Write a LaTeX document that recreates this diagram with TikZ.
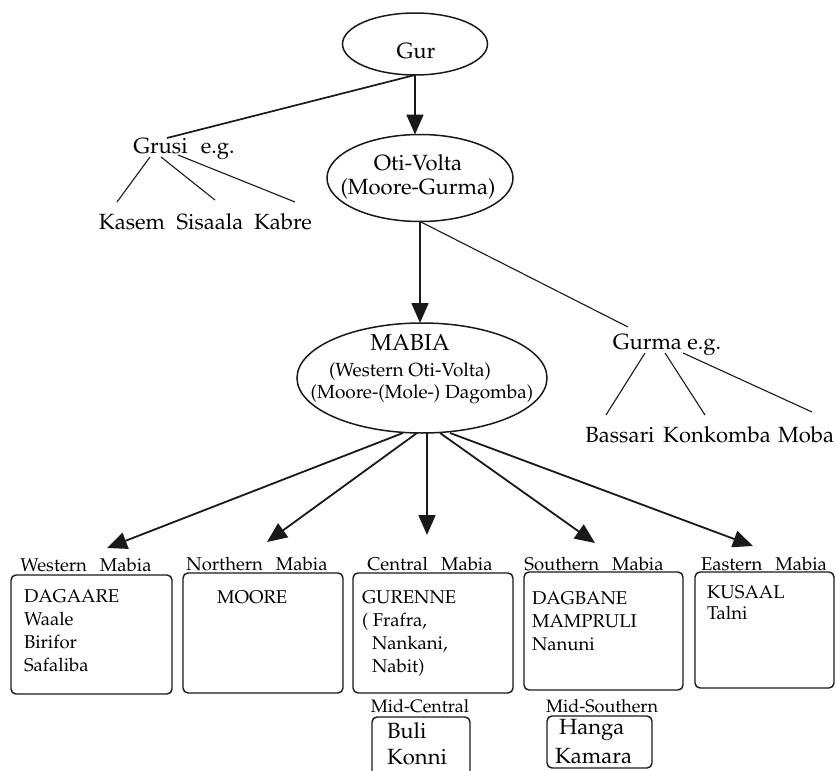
\documentclass[tikz,border=0pt]{standalone}
\usepackage[T1]{fontenc}
\usepackage{mathpazo}
\usetikzlibrary{arrows.meta,calc,shapes.geometric}
\begin{document}
\begin{tikzpicture}[x=1pt,y=-1pt,
 every node/.style={inner sep=0pt, outer sep=0pt},
 thinln/.style={draw=black!90, line width=1.1pt},
 thickln/.style={draw=black!90, line width=1.7pt},
 arr/.style={draw=black!90, line width=1.8pt, -{Triangle[length=20pt,width=17pt]}},
 oval/.style={ellipse, draw=black!90, line width=1.5pt},
 boxshape/.style={rectangle, draw=black!90, line width=1.4pt, rounded corners=5pt},
 bigf/.style={font=\fontsize{22}{26}\selectfont},
 midf/.style={font=\fontsize{19}{22}\selectfont},
 boxf/.style={font=\fontsize{18.5}{23}\selectfont, align=left, anchor=north west},
 labf/.style={font=\fontsize{18.5}{20}\selectfont},
 mlabf/.style={font=\fontsize{18}{20}\selectfont},
 mboxf/.style={font=\fontsize{22}{26}\selectfont, align=left, anchor=north west},
]
\useasboundingbox (0,0) rectangle (836,771);
\clip (0,0) rectangle (836,771);

% ellipses
\node[oval, minimum width=145pt, minimum height=62pt] (gur) at (415,44) {};
\node[bigf] (gurt) at (416,51) {Gur};
\node[oval, minimum width=186pt, minimum height=87pt] (oti) at (420,178) {};
\node[font=\fontsize{22}{24}\selectfont, align=center] (otit) at (418,177) {Oti-Volta\\(Moore-Gurma)};
\node[oval, minimum width=250pt, minimum height=110pt] (mabia) at (422,378) {};
\node[font=\fontsize{23}{26}\selectfont] (mabiaa) at (410,343) {MABIA};
\node[midf] (mabiab) at (410,372) {(Western Oti-Volta)};
\node[midf] (mabiac) at (422,394) {(Moore-(Mole-) Dagomba)};

% Grusi group
\node[bigf] (grusi) at (184,149) {Grusi\hspace{0.35em} e.g.};
\node[bigf] (kasem) at (132,222) {Kasem};
\node[bigf] (sisaala) at (210,222) {Sisaala};
\node[bigf] (kabre) at (283,222) {Kabre};

% Gurma group
\node[bigf] (gurma) at (667,345) {Gurma e.g.};
\node[bigf] (bassari) at (620,435) {Bassari};
\node[bigf] (konkomba) at (717,435) {Konkomba};
\node[bigf] (moba) at (806,435) {Moba};

% top connectors
\draw[arr] (gur.south) -- (gur.south |- oti.north);
\draw[thickln] (gur.south) -- ($(grusi.center)+(-17,-11)$);
\draw[thinln] ($(grusi.center)+(-34,8)$) -- ($(kasem.center)+(-15,-20)$);
\draw[thinln] ($(grusi.center)+(-23,8)$) -- ($(sisaala.center)+(5,-22)$);
\draw[thinln] ($(grusi.center)+(-6,6)$) -- ($(kabre.center)+(12,-20)$);
\draw[arr] (oti.south) -- (oti.south |- mabia.north);
\draw[thinln] (oti.south) -- ($(gurma.center)+(-39,-18)$);
\draw[thinln] ($(gurma.center)+(-22,8)$) -- ($(bassari.center)+(-14,-20)$);
\draw[thinln] ($(gurma.center)+(-2,8)$) -- ($(konkomba.center)+(-12,-20)$);
\draw[thinln] ($(gurma.center)+(16,8)$) -- ($(moba.center)+(6,-23)$);

% group labels
\node[labf] (wlab) at (86,565) {Western\hspace{0.45em} Mabia};
\node[labf] (nlab) at (257,564) {Northern\hspace{0.45em} Mabia};
\node[labf] (clab) at (430,564) {Central\hspace{0.45em} Mabia};
\node[labf] (slab) at (594,564) {Southern\hspace{0.45em} Mabia};
\node[labf] (elab) at (764,564) {Eastern\hspace{0.45em} Mabia};

% arrows from MABIA
\draw[arr] ($(mabia.south)+(-19,0)$) -- ($(wlab.center)+(21,-17)$);
\draw[arr] ($(mabia.south)+(-5,0)$) -- ($(nlab.center)+(10,-22)$);
\draw[arr] ($(mabia.south)+(5,0)$) -- ($(clab.center)+(-3,-29)$);
\draw[arr] ($(mabia.south)+(18,0)$) -- ($(slab.center)+(1,-21)$);
\draw[arr] ($(mabia.south)+(28,0)$) -- ($(elab.center)+(-11,-18)$);

% boxes
\node[boxshape, minimum width=161pt, minimum height=119pt] (wbox) at (91.5,634.5) {};
\node[boxshape, minimum width=160pt, minimum height=120pt] (nbox) at (263,633) {};
\node[boxshape, minimum width=160pt, minimum height=120pt] (cbox) at (433,633) {};
\node[boxshape, minimum width=159pt, minimum height=118pt] (sbox) at (603.5,631) {};
\node[boxshape, minimum width=139pt, minimum height=116pt] (ebox) at (764.5,630) {};

\node[boxf] (wtext) at (24,590) {DAGAARE\\Waale\\Birifor\\Safaliba};
\node[boxf] (ntext) at (217,591) {MOORE};
\node[boxf] (ctext) at (362,591) {GURENNE\\( Frafra,\\\hspace*{10pt}Nankani,\\\hspace*{10pt}Nabit)};
\node[boxf] (stext) at (532,592) {DAGBANE\\MAMPRULI\\Nanuni};
\node[boxf, font=\fontsize{18.5}{21}\selectfont] (etext) at (707,586) {KUSAAL\\Talni};

% mid groups
\node[mlabf] (mclab) at (420,706) {Mid-Central};
\node[mlabf] (mslab) at (602,706) {Mid-Southern};
\node[boxshape, minimum width=98pt, minimum height=64pt] (mcbox) at (421,749) {};
\node[boxshape, minimum width=105pt, minimum height=52pt] (msbox) at (599.5,742) {};
\node[mboxf] (mctext) at (387,723) {Buli\\Konni};
\node[mboxf, font=\fontsize{22}{29}\selectfont] (mstext) at (555,719) {\hspace*{4pt}Hanga\\Kamara};
\end{tikzpicture}
\end{document}
